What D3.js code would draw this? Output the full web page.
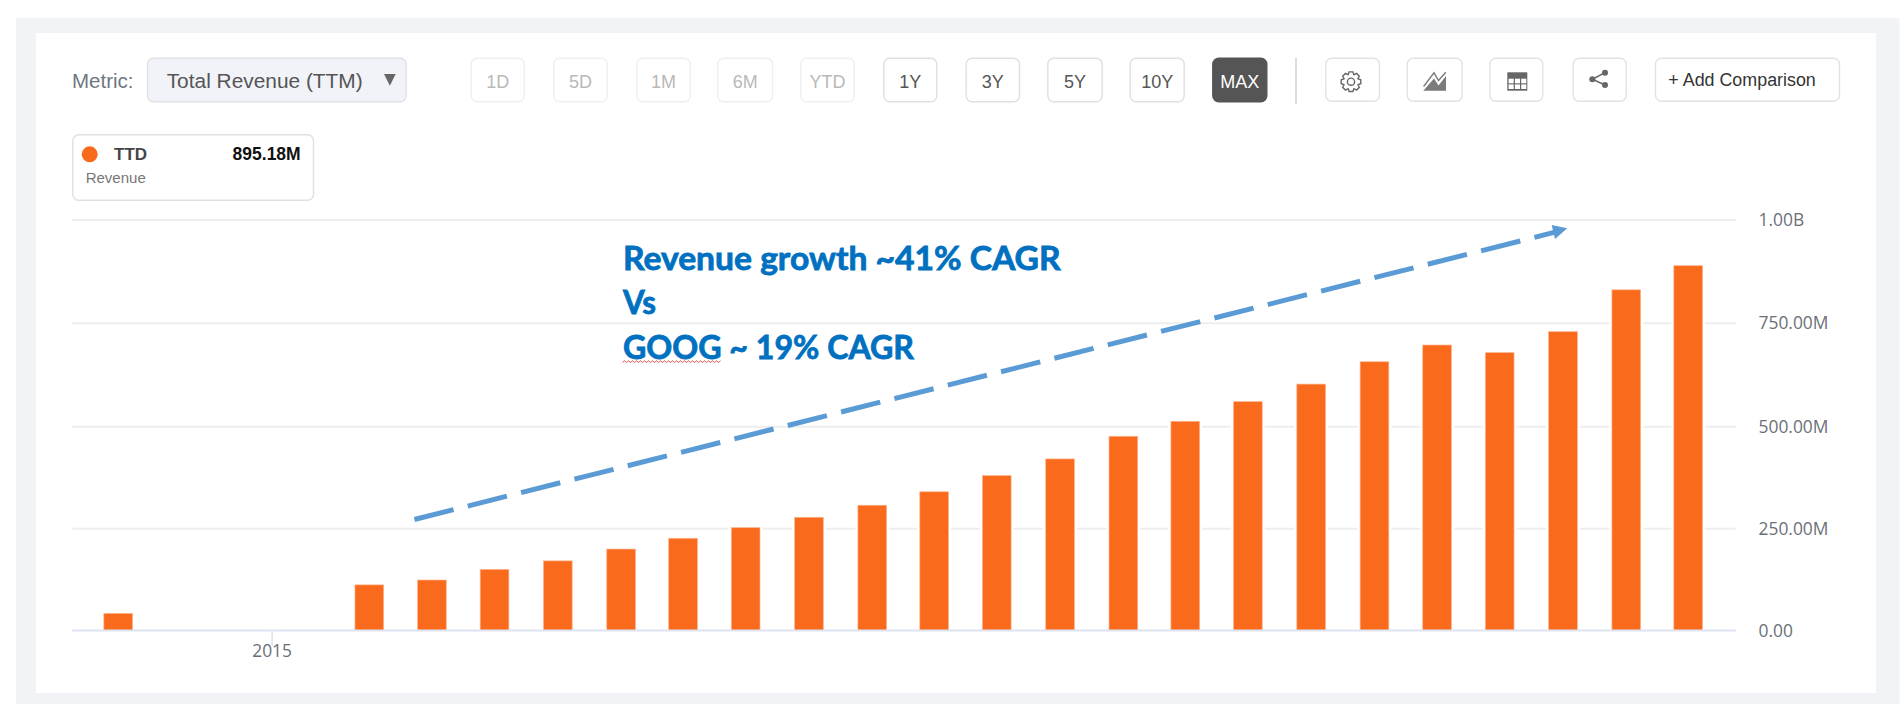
<!DOCTYPE html>
<html>
<head>
<meta charset="utf-8">
<title>TTD Revenue</title>
<script src="https://cdn.jsdelivr.net/npm/d3@7"></script>
<style>
html,body{margin:0;padding:0;background:#fff;}
svg{display:block;}
text{font-family:"Liberation Sans",Arial,sans-serif;}
.ax text{font-family:"Open Sans",sans-serif;font-size:17.4px;fill:#6b7078;}
</style>
</head>
<body>
<div id="chart"></div>
<script>
// ---- data ----
const periods = ["2014-12-31","2015-12-31","2016-03-31","2016-06-30","2016-09-30","2016-12-31","2017-03-31","2017-06-30","2017-09-30","2017-12-31","2018-03-31","2018-06-30","2018-09-30","2018-12-31","2019-03-31","2019-06-30","2019-09-30","2019-12-31","2020-03-31","2020-06-30","2020-09-30","2020-12-31","2021-03-31"];
const revenue = [42,112,124,150,171,200,226.5,252.5,278,307.5,340.5,380,421,476.5,513,560.5,603,657,697.5,679,729.7,831,889.4];
const yTicks = [0,250,500,750,1000];
const yTickLabels = ["0.00","250.00M","500.00M","750.00M","1.00B"];
const xTicks = ["2015-08-11"];
const xTickLabels = ["2015"];
const rangeLabels = ["1D","5D","1M","6M","YTD","1Y","3Y","5Y","10Y","MAX"];
const disabledRanges = ["1D","5D","1M","6M","YTD"];
const activeRange = "MAX";
const annotationLines = ["Revenue growth ~41% CAGR","Vs","GOOG ~ 19% CAGR"];

// ---- layout ----
const W=1900,H=704;
const rangeEdges=[[470.7,524.7],[553.3,607.7],[636.3,690.7],[717.3,773],[800.3,854.7],[883.3,937.3],[965.7,1020],[1047.3,1102.7],[1129.7,1184.7],[1212.3,1267.3]];
const parse=d3.utcParse("%Y-%m-%d");
const dates=periods.map(parse);
const svg=d3.select("#chart").append("svg").attr("width",W).attr("height",H);

// page and panel
svg.append("rect").attr("x",16).attr("y",18).attr("width",W-16.5).attr("height",H-18).attr("fill","#f1f3f7");
svg.append("rect").attr("x",36).attr("y",33).attr("width",1840).attr("height",660).attr("fill","#fff");

// scales
const x=d3.scaleUtc().domain([dates[0],dates[dates.length-1]]).range([118.2,1688.2]);
const y=d3.scaleLinear().domain(yTicks).range([630.5,528.7,426.7,323.3,220]);
const plotL=72.3,plotR=1735.7,barW=28.7;

// gridlines
svg.append("g").selectAll("line").data(yTicks.slice(1)).join("line")
  .attr("x1",plotL).attr("x2",plotR).attr("y1",d=>y(d)).attr("y2",d=>y(d))
  .attr("stroke","#eeeeef").attr("stroke-width",2);

// bar halo cutting the gridlines
svg.append("g").selectAll("rect").data(revenue).join("rect")
  .attr("x",(d,i)=>x(dates[i])-barW/2-2.5).attr("width",barW+5)
  .attr("y",d=>y(d)).attr("height",d=>y(0)-y(d)).attr("fill","#fff");

// bars
svg.append("g").selectAll("rect").data(revenue).join("rect")
  .attr("x",(d,i)=>x(dates[i])-barW/2).attr("width",barW)
  .attr("y",d=>y(d)).attr("height",d=>y(0)-y(d))
  .attr("fill","#fa6a1c").attr("stroke","#fdb48c").attr("stroke-width",0.7);

// baseline
svg.append("line").attr("x1",plotL).attr("x2",plotR).attr("y1",y(0)).attr("y2",y(0))
  .attr("stroke","#dde3f0").attr("stroke-width",2);

// x axis
const xAxis=d3.axisBottom(x).tickValues(xTicks.map(parse)).tickSize(15).tickPadding(-1)
  .tickFormat((d,i)=>xTickLabels[i]);
const gx=svg.append("g").attr("class","ax").attr("transform",`translate(0,${y(0)})`).call(xAxis);
gx.select(".domain").remove();
gx.selectAll(".tick line").attr("stroke","#dde3f0").attr("stroke-width",1.6);

// y axis
const yAxis=d3.axisRight(y).tickValues(yTicks).tickSize(0).tickPadding(0)
  .tickFormat((d,i)=>yTickLabels[i]);
const gy=svg.append("g").attr("class","ax").attr("transform","translate(1758.5,0)").call(yAxis);
gy.select(".domain").remove();

// ---- toolbar ----
function box(g,x0,x1,y0,y1,opt={}){
  return g.append("rect").attr("x",x0+.5).attr("y",y0+.5).attr("width",x1-x0-1).attr("height",y1-y0-1)
    .attr("rx",opt.rx||6).attr("fill",opt.fill||"#fff").attr("stroke",opt.stroke||"#e3e3e3").attr("stroke-width",opt.sw||1.4);
}
const ui=svg.append("g");
ui.append("text").attr("x",72).attr("y",87.7).attr("font-size",20.5).attr("fill","#6f7680").text("Metric:");
box(ui,147,406.7,57.7,102.3,{fill:"#f1f3f8",stroke:"#dfe1e6",rx:6});
ui.append("text").attr("x",166.7).attr("y",87.7).attr("font-size",20.5).attr("fill","#555").attr("textLength",196).attr("lengthAdjust","spacingAndGlyphs").text("Total Revenue (TTM)");
ui.append("path").attr("d","M384,74L395.7,74L389.85,85.7Z").attr("fill","#666");

rangeLabels.forEach((t,i)=>{
  const [a,b]=rangeEdges[i];
  const off=disabledRanges.includes(t), on=t===activeRange;
  box(ui,a,b,57.7,102.3,{fill:on?"#555":"#fff",stroke:on?"#555":(off?"#efefef":"#e0e0e0")});
  ui.append("text").attr("x",(a+b)/2).attr("y",87.5).attr("text-anchor","middle").attr("font-size",18)
    .attr("fill",on?"#fff":(off?"#b9b9b9":"#555")).text(t);
});
ui.append("line").attr("x1",1296).attr("x2",1296).attr("y1",57.7).attr("y2",104).attr("stroke","#dcdcdc").attr("stroke-width",2);
[[1325.3,1380],[1406.7,1462.7],[1489.3,1543.3],[1572.7,1626.7],[1655,1840]].forEach(([a,b])=>box(ui,a,b,57.7,101.7,{stroke:"#e3e3e3"}));
ui.append("text").attr("x",1668.3).attr("y",85.7).attr("font-size",18).attr("fill","#333").attr("textLength",147.5).attr("lengthAdjust","spacingAndGlyphs").text("+ Add Comparison");

// gear icon
(function(){
  const cx=1351,cy=81.7,n=8,ro=10,ri=7.6;let p=[];
  for(let i=0;i<n;i++){
    const a=i*2*Math.PI/n,w=Math.PI/n;
    [[a-w*.95,ri],[a-w*.5,ro],[a+w*.5,ro],[a+w*.95,ri]].forEach(([t,r])=>p.push([cx+r*Math.sin(t),cy-r*Math.cos(t)]));
  }
  ui.append("path").attr("d",d3.line()(p)+"Z").attr("fill","none").attr("stroke","#666").attr("stroke-width",1.4);
  ui.append("circle").attr("cx",cx).attr("cy",cy).attr("r",3.6).attr("fill","none").attr("stroke","#666").attr("stroke-width",1.4);
})();
// area-chart icon
ui.append("path").attr("d","M1423.3,90.7L1434,78.5L1438.5,85.5L1446,76L1446,90.7Z").attr("fill","#7b7b7b");
ui.append("path").attr("d","M1423.6,86.5L1434,72.8L1438.5,80.5L1445.8,72.3").attr("fill","none").attr("stroke","#7b7b7b").attr("stroke-width",1.4);
// table icon
ui.append("rect").attr("x",1507.3).attr("y",72.3).attr("width",20).attr("height",18.4).attr("fill","#666");
[0,1,2].forEach(c=>[0,1].forEach(r=>ui.append("rect").attr("x",1508.6+c*6.3).attr("y",78.7+r*5.7).attr("width",5.1).attr("height",4.6).attr("fill","#fff")));
// share icon
ui.append("path").attr("d","M1605,72.7L1592.3,79.3L1605,85").attr("fill","none").attr("stroke","#666").attr("stroke-width",1.5);
[[1605,72.7],[1592.3,79.3],[1605,85]].forEach(([a,b])=>ui.append("circle").attr("cx",a).attr("cy",b).attr("r",3).attr("fill","#666"));

// legend card
box(ui,72.3,314,134.3,200.7,{rx:6,stroke:"#e0e0e0"});
ui.append("circle").attr("cx",89.7).attr("cy",154.3).attr("r",8).attr("fill","#fa6a1c");
ui.append("text").attr("x",114).attr("y",160).attr("font-size",17).attr("font-weight",700).attr("fill","#444").text("TTD");
ui.append("text").attr("x",300.7).attr("y",160).attr("text-anchor","end").attr("font-size",17.5).attr("font-weight",700).attr("fill","#111").text("895.18M");
ui.append("text").attr("x",85.7).attr("y",183.3).attr("font-size",15).attr("fill","#777").text("Revenue");

// ---- annotation ----
const arrowStart=[414.4,519.5], arrowEnd=[1555,232.2];
svg.append("line").attr("x1",arrowStart[0]).attr("y1",arrowStart[1]).attr("x2",arrowEnd[0]).attr("y2",arrowEnd[1])
  .attr("stroke","#5b9bd5").attr("stroke-width",5).attr("stroke-dasharray","40.4 14.6");
svg.append("path").attr("d","M1551.7,225L1567.3,228.3L1555,239Z").attr("fill","#5b9bd5");

const annoG=svg.append("g").attr("fill","#0070c0").attr("stroke","#0070c0").attr("stroke-width",0.8);
const annoBase=[270,314.3,358.7], annoLen=[437.5,33,291];
annotationLines.forEach((t,i)=>{
  annoG.append("text").attr("x",623).attr("y",annoBase[i])
    .style("font-family","Lato,sans-serif").attr("font-weight",700).attr("font-size",32)
    .attr("textLength",annoLen[i]).attr("lengthAdjust","spacingAndGlyphs").text(t);
});
// red spell-check squiggle under GOOG
const sq=d3.range(622.5,722,2).map((v,i)=>[v,i%2?360.8:362.4]);
svg.append("path").attr("d",d3.line()(sq)).attr("fill","none").attr("stroke","#e8413c").attr("stroke-width",0.9);
</script>
</body>
</html>
